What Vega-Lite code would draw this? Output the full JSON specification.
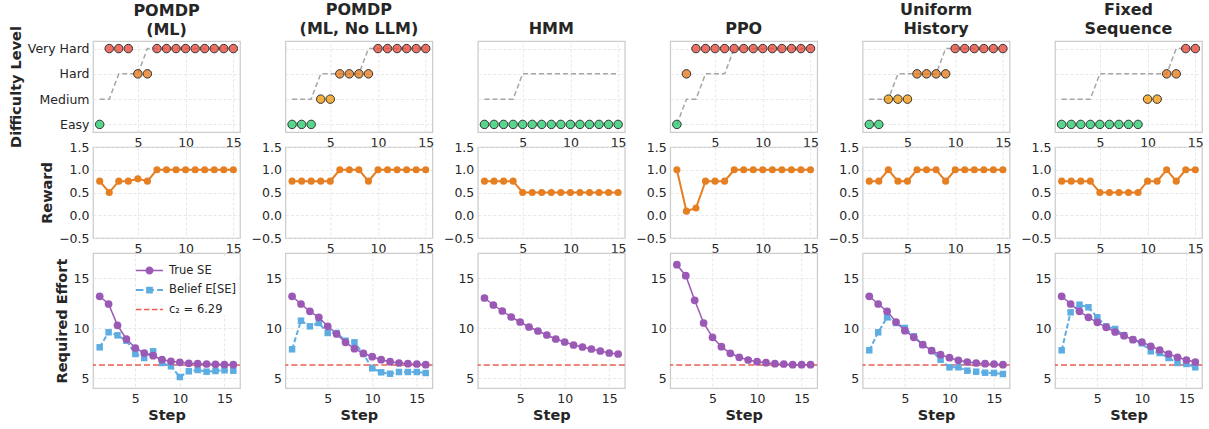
{
  "$schema": "https://vega.github.io/schema/vega-lite/v6.json",
  "padding": {"left": 7, "top": 1, "right": 2, "bottom": 2},
  "background": "white",
  "datasets": {
    "steps": [
      {"method":"ml","step":1,"level":"Easy","target":"Medium","reward":0.75},
      {"method":"ml","step":2,"level":"Very Hard","target":"Medium","reward":0.5},
      {"method":"ml","step":3,"level":"Very Hard","target":"Hard","reward":0.75},
      {"method":"ml","step":4,"level":"Very Hard","target":"Hard","reward":0.75},
      {"method":"ml","step":5,"level":"Hard","target":"Hard","reward":0.8},
      {"method":"ml","step":6,"level":"Hard","target":"Very Hard","reward":0.75},
      {"method":"ml","step":7,"level":"Very Hard","target":"Very Hard","reward":1.0},
      {"method":"ml","step":8,"level":"Very Hard","target":"Very Hard","reward":1.0},
      {"method":"ml","step":9,"level":"Very Hard","target":"Very Hard","reward":1.0},
      {"method":"ml","step":10,"level":"Very Hard","target":"Very Hard","reward":1.0},
      {"method":"ml","step":11,"level":"Very Hard","target":"Very Hard","reward":1.0},
      {"method":"ml","step":12,"level":"Very Hard","target":"Very Hard","reward":1.0},
      {"method":"ml","step":13,"level":"Very Hard","target":"Very Hard","reward":1.0},
      {"method":"ml","step":14,"level":"Very Hard","target":"Very Hard","reward":1.0},
      {"method":"ml","step":15,"level":"Very Hard","target":"Very Hard","reward":1.0},
      {"method":"nollm","step":1,"level":"Easy","target":"Medium","reward":0.75},
      {"method":"nollm","step":2,"level":"Easy","target":"Medium","reward":0.75},
      {"method":"nollm","step":3,"level":"Easy","target":"Medium","reward":0.75},
      {"method":"nollm","step":4,"level":"Medium","target":"Hard","reward":0.75},
      {"method":"nollm","step":5,"level":"Medium","target":"Hard","reward":0.75},
      {"method":"nollm","step":6,"level":"Hard","target":"Hard","reward":1.0},
      {"method":"nollm","step":7,"level":"Hard","target":"Hard","reward":1.0},
      {"method":"nollm","step":8,"level":"Hard","target":"Hard","reward":1.0},
      {"method":"nollm","step":9,"level":"Hard","target":"Very Hard","reward":0.75},
      {"method":"nollm","step":10,"level":"Very Hard","target":"Very Hard","reward":1.0},
      {"method":"nollm","step":11,"level":"Very Hard","target":"Very Hard","reward":1.0},
      {"method":"nollm","step":12,"level":"Very Hard","target":"Very Hard","reward":1.0},
      {"method":"nollm","step":13,"level":"Very Hard","target":"Very Hard","reward":1.0},
      {"method":"nollm","step":14,"level":"Very Hard","target":"Very Hard","reward":1.0},
      {"method":"nollm","step":15,"level":"Very Hard","target":"Very Hard","reward":1.0},
      {"method":"hmm","step":1,"level":"Easy","target":"Medium","reward":0.75},
      {"method":"hmm","step":2,"level":"Easy","target":"Medium","reward":0.75},
      {"method":"hmm","step":3,"level":"Easy","target":"Medium","reward":0.75},
      {"method":"hmm","step":4,"level":"Easy","target":"Medium","reward":0.75},
      {"method":"hmm","step":5,"level":"Easy","target":"Hard","reward":0.5},
      {"method":"hmm","step":6,"level":"Easy","target":"Hard","reward":0.5},
      {"method":"hmm","step":7,"level":"Easy","target":"Hard","reward":0.5},
      {"method":"hmm","step":8,"level":"Easy","target":"Hard","reward":0.5},
      {"method":"hmm","step":9,"level":"Easy","target":"Hard","reward":0.5},
      {"method":"hmm","step":10,"level":"Easy","target":"Hard","reward":0.5},
      {"method":"hmm","step":11,"level":"Easy","target":"Hard","reward":0.5},
      {"method":"hmm","step":12,"level":"Easy","target":"Hard","reward":0.5},
      {"method":"hmm","step":13,"level":"Easy","target":"Hard","reward":0.5},
      {"method":"hmm","step":14,"level":"Easy","target":"Hard","reward":0.5},
      {"method":"hmm","step":15,"level":"Easy","target":"Hard","reward":0.5},
      {"method":"ppo","step":1,"level":"Easy","target":"Easy","reward":1.0},
      {"method":"ppo","step":2,"level":"Hard","target":"Medium","reward":0.09},
      {"method":"ppo","step":3,"level":"Very Hard","target":"Medium","reward":0.16},
      {"method":"ppo","step":4,"level":"Very Hard","target":"Hard","reward":0.75},
      {"method":"ppo","step":5,"level":"Very Hard","target":"Hard","reward":0.75},
      {"method":"ppo","step":6,"level":"Very Hard","target":"Hard","reward":0.75},
      {"method":"ppo","step":7,"level":"Very Hard","target":"Very Hard","reward":1.0},
      {"method":"ppo","step":8,"level":"Very Hard","target":"Very Hard","reward":1.0},
      {"method":"ppo","step":9,"level":"Very Hard","target":"Very Hard","reward":1.0},
      {"method":"ppo","step":10,"level":"Very Hard","target":"Very Hard","reward":1.0},
      {"method":"ppo","step":11,"level":"Very Hard","target":"Very Hard","reward":1.0},
      {"method":"ppo","step":12,"level":"Very Hard","target":"Very Hard","reward":1.0},
      {"method":"ppo","step":13,"level":"Very Hard","target":"Very Hard","reward":1.0},
      {"method":"ppo","step":14,"level":"Very Hard","target":"Very Hard","reward":1.0},
      {"method":"ppo","step":15,"level":"Very Hard","target":"Very Hard","reward":1.0},
      {"method":"uniform","step":1,"level":"Easy","target":"Medium","reward":0.75},
      {"method":"uniform","step":2,"level":"Easy","target":"Medium","reward":0.75},
      {"method":"uniform","step":3,"level":"Medium","target":"Medium","reward":1.0},
      {"method":"uniform","step":4,"level":"Medium","target":"Hard","reward":0.75},
      {"method":"uniform","step":5,"level":"Medium","target":"Hard","reward":0.75},
      {"method":"uniform","step":6,"level":"Hard","target":"Hard","reward":1.0},
      {"method":"uniform","step":7,"level":"Hard","target":"Hard","reward":1.0},
      {"method":"uniform","step":8,"level":"Hard","target":"Hard","reward":1.0},
      {"method":"uniform","step":9,"level":"Hard","target":"Very Hard","reward":0.75},
      {"method":"uniform","step":10,"level":"Very Hard","target":"Very Hard","reward":1.0},
      {"method":"uniform","step":11,"level":"Very Hard","target":"Very Hard","reward":1.0},
      {"method":"uniform","step":12,"level":"Very Hard","target":"Very Hard","reward":1.0},
      {"method":"uniform","step":13,"level":"Very Hard","target":"Very Hard","reward":1.0},
      {"method":"uniform","step":14,"level":"Very Hard","target":"Very Hard","reward":1.0},
      {"method":"uniform","step":15,"level":"Very Hard","target":"Very Hard","reward":1.0},
      {"method":"fixed","step":1,"level":"Easy","target":"Medium","reward":0.75},
      {"method":"fixed","step":2,"level":"Easy","target":"Medium","reward":0.75},
      {"method":"fixed","step":3,"level":"Easy","target":"Medium","reward":0.75},
      {"method":"fixed","step":4,"level":"Easy","target":"Medium","reward":0.75},
      {"method":"fixed","step":5,"level":"Easy","target":"Hard","reward":0.5},
      {"method":"fixed","step":6,"level":"Easy","target":"Hard","reward":0.5},
      {"method":"fixed","step":7,"level":"Easy","target":"Hard","reward":0.5},
      {"method":"fixed","step":8,"level":"Easy","target":"Hard","reward":0.5},
      {"method":"fixed","step":9,"level":"Easy","target":"Hard","reward":0.5},
      {"method":"fixed","step":10,"level":"Medium","target":"Hard","reward":0.75},
      {"method":"fixed","step":11,"level":"Medium","target":"Hard","reward":0.75},
      {"method":"fixed","step":12,"level":"Hard","target":"Hard","reward":1.0},
      {"method":"fixed","step":13,"level":"Hard","target":"Very Hard","reward":0.75},
      {"method":"fixed","step":14,"level":"Very Hard","target":"Very Hard","reward":1.0},
      {"method":"fixed","step":15,"level":"Very Hard","target":"Very Hard","reward":1.0}
    ],
    "effort": [
      {"method":"ml","step":1,"trueSE":13.17,"belief":8.07},
      {"method":"ml","step":2,"trueSE":12.4,"belief":9.57},
      {"method":"ml","step":3,"trueSE":10.27,"belief":9.27},
      {"method":"ml","step":4,"trueSE":8.9,"belief":8.73},
      {"method":"ml","step":5,"trueSE":8.0,"belief":7.4},
      {"method":"ml","step":6,"trueSE":7.5,"belief":7.0},
      {"method":"ml","step":7,"trueSE":7.23,"belief":7.67},
      {"method":"ml","step":8,"trueSE":6.83,"belief":6.5},
      {"method":"ml","step":9,"trueSE":6.67,"belief":6.17},
      {"method":"ml","step":10,"trueSE":6.57,"belief":5.1},
      {"method":"ml","step":11,"trueSE":6.47,"belief":5.67},
      {"method":"ml","step":12,"trueSE":6.43,"belief":5.8},
      {"method":"ml","step":13,"trueSE":6.4,"belief":5.63},
      {"method":"ml","step":14,"trueSE":6.37,"belief":5.7},
      {"method":"ml","step":15,"trueSE":6.35,"belief":5.77},
      {"method":"ml","step":16,"trueSE":6.33,"belief":5.73},
      {"method":"nollm","step":1,"trueSE":13.17,"belief":7.87},
      {"method":"nollm","step":2,"trueSE":12.4,"belief":10.73},
      {"method":"nollm","step":3,"trueSE":11.67,"belief":10.17},
      {"method":"nollm","step":4,"trueSE":11.07,"belief":10.5},
      {"method":"nollm","step":5,"trueSE":10.17,"belief":9.5},
      {"method":"nollm","step":6,"trueSE":9.4,"belief":9.5},
      {"method":"nollm","step":7,"trueSE":8.57,"belief":8.73},
      {"method":"nollm","step":8,"trueSE":7.93,"belief":8.57},
      {"method":"nollm","step":9,"trueSE":7.47,"belief":7.4},
      {"method":"nollm","step":10,"trueSE":7.13,"belief":5.97},
      {"method":"nollm","step":11,"trueSE":6.83,"belief":5.57},
      {"method":"nollm","step":12,"trueSE":6.63,"belief":5.43},
      {"method":"nollm","step":13,"trueSE":6.5,"belief":5.6},
      {"method":"nollm","step":14,"trueSE":6.43,"belief":5.6},
      {"method":"nollm","step":15,"trueSE":6.4,"belief":5.6},
      {"method":"nollm","step":16,"trueSE":6.33,"belief":5.5},
      {"method":"hmm","step":1,"trueSE":13.0},
      {"method":"hmm","step":2,"trueSE":12.3},
      {"method":"hmm","step":3,"trueSE":11.7},
      {"method":"hmm","step":4,"trueSE":11.1},
      {"method":"hmm","step":5,"trueSE":10.6},
      {"method":"hmm","step":6,"trueSE":10.1},
      {"method":"hmm","step":7,"trueSE":9.7},
      {"method":"hmm","step":8,"trueSE":9.3},
      {"method":"hmm","step":9,"trueSE":8.9},
      {"method":"hmm","step":10,"trueSE":8.6},
      {"method":"hmm","step":11,"trueSE":8.3},
      {"method":"hmm","step":12,"trueSE":8.1},
      {"method":"hmm","step":13,"trueSE":7.9},
      {"method":"hmm","step":14,"trueSE":7.7},
      {"method":"hmm","step":15,"trueSE":7.5},
      {"method":"hmm","step":16,"trueSE":7.4},
      {"method":"ppo","step":1,"trueSE":16.33},
      {"method":"ppo","step":2,"trueSE":15.23},
      {"method":"ppo","step":3,"trueSE":12.77},
      {"method":"ppo","step":4,"trueSE":10.5},
      {"method":"ppo","step":5,"trueSE":9.07},
      {"method":"ppo","step":6,"trueSE":8.13},
      {"method":"ppo","step":7,"trueSE":7.47},
      {"method":"ppo","step":8,"trueSE":7.07},
      {"method":"ppo","step":9,"trueSE":6.8},
      {"method":"ppo","step":10,"trueSE":6.63},
      {"method":"ppo","step":11,"trueSE":6.53},
      {"method":"ppo","step":12,"trueSE":6.43},
      {"method":"ppo","step":13,"trueSE":6.4},
      {"method":"ppo","step":14,"trueSE":6.33},
      {"method":"ppo","step":15,"trueSE":6.33},
      {"method":"ppo","step":16,"trueSE":6.33},
      {"method":"uniform","step":1,"trueSE":13.17,"belief":7.77},
      {"method":"uniform","step":2,"trueSE":12.4,"belief":9.57},
      {"method":"uniform","step":3,"trueSE":11.67,"belief":11.07},
      {"method":"uniform","step":4,"trueSE":10.6,"belief":10.5},
      {"method":"uniform","step":5,"trueSE":9.73,"belief":10.0},
      {"method":"uniform","step":6,"trueSE":9.07,"belief":9.17},
      {"method":"uniform","step":7,"trueSE":8.33,"belief":8.33},
      {"method":"uniform","step":8,"trueSE":7.73,"belief":7.73},
      {"method":"uniform","step":9,"trueSE":7.33,"belief":6.83},
      {"method":"uniform","step":10,"trueSE":7.03,"belief":6.07},
      {"method":"uniform","step":11,"trueSE":6.77,"belief":6.07},
      {"method":"uniform","step":12,"trueSE":6.6,"belief":5.73},
      {"method":"uniform","step":13,"trueSE":6.5,"belief":5.63},
      {"method":"uniform","step":14,"trueSE":6.43,"belief":5.53},
      {"method":"uniform","step":15,"trueSE":6.4,"belief":5.5},
      {"method":"uniform","step":16,"trueSE":6.33,"belief":5.4},
      {"method":"fixed","step":1,"trueSE":13.17,"belief":7.77},
      {"method":"fixed","step":2,"trueSE":12.4,"belief":11.57},
      {"method":"fixed","step":3,"trueSE":11.67,"belief":12.33},
      {"method":"fixed","step":4,"trueSE":11.07,"belief":12.07},
      {"method":"fixed","step":5,"trueSE":10.57,"belief":11.07},
      {"method":"fixed","step":6,"trueSE":10.07,"belief":10.17},
      {"method":"fixed","step":7,"trueSE":9.6,"belief":9.9},
      {"method":"fixed","step":8,"trueSE":9.23,"belief":9.27},
      {"method":"fixed","step":9,"trueSE":8.83,"belief":8.83},
      {"method":"fixed","step":10,"trueSE":8.6,"belief":8.47},
      {"method":"fixed","step":11,"trueSE":8.17,"belief":7.67},
      {"method":"fixed","step":12,"trueSE":7.8,"belief":7.5},
      {"method":"fixed","step":13,"trueSE":7.4,"belief":7.0},
      {"method":"fixed","step":14,"trueSE":7.07,"belief":6.5},
      {"method":"fixed","step":15,"trueSE":6.8,"belief":6.4},
      {"method":"fixed","step":16,"trueSE":6.6,"belief":6.07}
    ],
    "threshold": [{"c2": 6.29}]
  },
  "columns": 6,
  "spacing": {"row": 15, "column": 45.4},
  "bounds": "flush",
  "resolve": {
    "scale": {"color": "independent", "shape": "independent"},
    "legend": {"color": "independent", "shape": "independent"}
  },
  "concat": [
    {"width":147,"height":91,"title":{"text":"POMDP","subtitle":"(ML)","dy":16},"data":{"name":"steps"},"transform":[{"filter":"datum.method === 'ml'"}],
     "encoding":{"x":{"field":"step","type":"quantitative","scale":{"domain":[0.3,15.7],"nice":false,"zero":false},"axis":{"values":[5,10,15],"title":null}}},
     "layer":[
      {"mark":{"type":"line","color":"#a6a6a6","strokeWidth":1.5,"strokeDash":[5,3]},"encoding":{"order":{"field":"step","type":"quantitative"},"y":{"field":"target","type":"ordinal","scale":{"domain":["Very Hard","Hard","Medium","Easy"],"padding":0.3},"axis":{"title":"Difficulty Level","grid":true}}}},
      {"mark":{"type":"point","filled":true,"size":72,"opacity":1,"fillOpacity":0.8,"stroke":"#333333","strokeWidth":1},"encoding":{"y":{"field":"level","type":"ordinal","scale":{"domain":["Very Hard","Hard","Medium","Easy"],"padding":0.3},"axis":{"title":"Difficulty Level","grid":true}},"color":{"field":"level","type":"nominal","scale":{"domain":["Easy","Medium","Hard","Very Hard"],"range":["#2ecc71","#f39c12","#e67e22","#e74c3c"]},"legend":null}}}
     ]},
    {"width":147,"height":91,"title":{"text":"POMDP","subtitle":"(ML, No LLM)"},"data":{"name":"steps"},"transform":[{"filter":"datum.method === 'nollm'"}],
     "encoding":{"x":{"field":"step","type":"quantitative","scale":{"domain":[0.3,15.7],"nice":false,"zero":false},"axis":{"values":[5,10,15],"title":null}}},
     "layer":[
      {"mark":{"type":"line","color":"#a6a6a6","strokeWidth":1.5,"strokeDash":[5,3]},"encoding":{"order":{"field":"step","type":"quantitative"},"y":{"field":"target","type":"ordinal","scale":{"domain":["Very Hard","Hard","Medium","Easy"],"padding":0.3},"axis":{"title":null,"labels":false,"grid":true}}}},
      {"mark":{"type":"point","filled":true,"size":72,"opacity":1,"fillOpacity":0.8,"stroke":"#333333","strokeWidth":1},"encoding":{"y":{"field":"level","type":"ordinal","scale":{"domain":["Very Hard","Hard","Medium","Easy"],"padding":0.3},"axis":{"title":null,"labels":false,"grid":true}},"color":{"field":"level","type":"nominal","scale":{"domain":["Easy","Medium","Hard","Very Hard"],"range":["#2ecc71","#f39c12","#e67e22","#e74c3c"]},"legend":null}}}
     ]},
    {"width":147,"height":91,"title":{"text":"HMM"},"data":{"name":"steps"},"transform":[{"filter":"datum.method === 'hmm'"}],
     "encoding":{"x":{"field":"step","type":"quantitative","scale":{"domain":[0.3,15.7],"nice":false,"zero":false},"axis":{"values":[5,10,15],"title":null}}},
     "layer":[
      {"mark":{"type":"line","color":"#a6a6a6","strokeWidth":1.5,"strokeDash":[5,3]},"encoding":{"order":{"field":"step","type":"quantitative"},"y":{"field":"target","type":"ordinal","scale":{"domain":["Very Hard","Hard","Medium","Easy"],"padding":0.3},"axis":{"title":null,"labels":false,"grid":true}}}},
      {"mark":{"type":"point","filled":true,"size":72,"opacity":1,"fillOpacity":0.8,"stroke":"#333333","strokeWidth":1},"encoding":{"y":{"field":"level","type":"ordinal","scale":{"domain":["Very Hard","Hard","Medium","Easy"],"padding":0.3},"axis":{"title":null,"labels":false,"grid":true}},"color":{"field":"level","type":"nominal","scale":{"domain":["Easy","Medium","Hard","Very Hard"],"range":["#2ecc71","#f39c12","#e67e22","#e74c3c"]},"legend":null}}}
     ]},
    {"width":147,"height":91,"title":{"text":"PPO"},"data":{"name":"steps"},"transform":[{"filter":"datum.method === 'ppo'"}],
     "encoding":{"x":{"field":"step","type":"quantitative","scale":{"domain":[0.3,15.7],"nice":false,"zero":false},"axis":{"values":[5,10,15],"title":null}}},
     "layer":[
      {"mark":{"type":"line","color":"#a6a6a6","strokeWidth":1.5,"strokeDash":[5,3]},"encoding":{"order":{"field":"step","type":"quantitative"},"y":{"field":"target","type":"ordinal","scale":{"domain":["Very Hard","Hard","Medium","Easy"],"padding":0.3},"axis":{"title":null,"labels":false,"grid":true}}}},
      {"mark":{"type":"point","filled":true,"size":72,"opacity":1,"fillOpacity":0.8,"stroke":"#333333","strokeWidth":1},"encoding":{"y":{"field":"level","type":"ordinal","scale":{"domain":["Very Hard","Hard","Medium","Easy"],"padding":0.3},"axis":{"title":null,"labels":false,"grid":true}},"color":{"field":"level","type":"nominal","scale":{"domain":["Easy","Medium","Hard","Very Hard"],"range":["#2ecc71","#f39c12","#e67e22","#e74c3c"]},"legend":null}}}
     ]},
    {"width":147,"height":91,"title":{"text":"Uniform","subtitle":"History"},"data":{"name":"steps"},"transform":[{"filter":"datum.method === 'uniform'"}],
     "encoding":{"x":{"field":"step","type":"quantitative","scale":{"domain":[0.3,15.7],"nice":false,"zero":false},"axis":{"values":[5,10,15],"title":null}}},
     "layer":[
      {"mark":{"type":"line","color":"#a6a6a6","strokeWidth":1.5,"strokeDash":[5,3]},"encoding":{"order":{"field":"step","type":"quantitative"},"y":{"field":"target","type":"ordinal","scale":{"domain":["Very Hard","Hard","Medium","Easy"],"padding":0.3},"axis":{"title":null,"labels":false,"grid":true}}}},
      {"mark":{"type":"point","filled":true,"size":72,"opacity":1,"fillOpacity":0.8,"stroke":"#333333","strokeWidth":1},"encoding":{"y":{"field":"level","type":"ordinal","scale":{"domain":["Very Hard","Hard","Medium","Easy"],"padding":0.3},"axis":{"title":null,"labels":false,"grid":true}},"color":{"field":"level","type":"nominal","scale":{"domain":["Easy","Medium","Hard","Very Hard"],"range":["#2ecc71","#f39c12","#e67e22","#e74c3c"]},"legend":null}}}
     ]},
    {"width":147,"height":91,"title":{"text":"Fixed","subtitle":"Sequence"},"data":{"name":"steps"},"transform":[{"filter":"datum.method === 'fixed'"}],
     "encoding":{"x":{"field":"step","type":"quantitative","scale":{"domain":[0.3,15.7],"nice":false,"zero":false},"axis":{"values":[5,10,15],"title":null}}},
     "layer":[
      {"mark":{"type":"line","color":"#a6a6a6","strokeWidth":1.5,"strokeDash":[5,3]},"encoding":{"order":{"field":"step","type":"quantitative"},"y":{"field":"target","type":"ordinal","scale":{"domain":["Very Hard","Hard","Medium","Easy"],"padding":0.3},"axis":{"title":null,"labels":false,"grid":true}}}},
      {"mark":{"type":"point","filled":true,"size":72,"opacity":1,"fillOpacity":0.8,"stroke":"#333333","strokeWidth":1},"encoding":{"y":{"field":"level","type":"ordinal","scale":{"domain":["Very Hard","Hard","Medium","Easy"],"padding":0.3},"axis":{"title":null,"labels":false,"grid":true}},"color":{"field":"level","type":"nominal","scale":{"domain":["Easy","Medium","Hard","Very Hard"],"range":["#2ecc71","#f39c12","#e67e22","#e74c3c"]},"legend":null}}}
     ]},

    {"width":147,"height":91,"data":{"name":"steps"},"transform":[{"filter":"datum.method === 'ml'"}],
     "mark":{"type":"line","color":"#e67e22","strokeWidth":2,"point":{"filled":true,"size":50,"color":"#e67e22","opacity":1}},
     "encoding":{"x":{"field":"step","type":"quantitative","scale":{"domain":[0.3,15.7],"nice":false,"zero":false},"axis":{"values":[5,10,15],"title":null}},
       "y":{"field":"reward","type":"quantitative","scale":{"domain":[-0.5,1.5],"nice":false},"axis":{"values":[-0.5,0,0.5,1,1.5],"format":".1f","title":"Reward"}}}},
    {"width":147,"height":91,"data":{"name":"steps"},"transform":[{"filter":"datum.method === 'nollm'"}],
     "mark":{"type":"line","color":"#e67e22","strokeWidth":2,"point":{"filled":true,"size":50,"color":"#e67e22","opacity":1}},
     "encoding":{"x":{"field":"step","type":"quantitative","scale":{"domain":[0.3,15.7],"nice":false,"zero":false},"axis":{"values":[5,10,15],"title":null}},
       "y":{"field":"reward","type":"quantitative","scale":{"domain":[-0.5,1.5],"nice":false},"axis":{"values":[-0.5,0,0.5,1,1.5],"format":".1f","title":null}}}},
    {"width":147,"height":91,"data":{"name":"steps"},"transform":[{"filter":"datum.method === 'hmm'"}],
     "mark":{"type":"line","color":"#e67e22","strokeWidth":2,"point":{"filled":true,"size":50,"color":"#e67e22","opacity":1}},
     "encoding":{"x":{"field":"step","type":"quantitative","scale":{"domain":[0.3,15.7],"nice":false,"zero":false},"axis":{"values":[5,10,15],"title":null}},
       "y":{"field":"reward","type":"quantitative","scale":{"domain":[-0.5,1.5],"nice":false},"axis":{"values":[-0.5,0,0.5,1,1.5],"format":".1f","title":null}}}},
    {"width":147,"height":91,"data":{"name":"steps"},"transform":[{"filter":"datum.method === 'ppo'"}],
     "mark":{"type":"line","color":"#e67e22","strokeWidth":2,"point":{"filled":true,"size":50,"color":"#e67e22","opacity":1}},
     "encoding":{"x":{"field":"step","type":"quantitative","scale":{"domain":[0.3,15.7],"nice":false,"zero":false},"axis":{"values":[5,10,15],"title":null}},
       "y":{"field":"reward","type":"quantitative","scale":{"domain":[-0.5,1.5],"nice":false},"axis":{"values":[-0.5,0,0.5,1,1.5],"format":".1f","title":null}}}},
    {"width":147,"height":91,"data":{"name":"steps"},"transform":[{"filter":"datum.method === 'uniform'"}],
     "mark":{"type":"line","color":"#e67e22","strokeWidth":2,"point":{"filled":true,"size":50,"color":"#e67e22","opacity":1}},
     "encoding":{"x":{"field":"step","type":"quantitative","scale":{"domain":[0.3,15.7],"nice":false,"zero":false},"axis":{"values":[5,10,15],"title":null}},
       "y":{"field":"reward","type":"quantitative","scale":{"domain":[-0.5,1.5],"nice":false},"axis":{"values":[-0.5,0,0.5,1,1.5],"format":".1f","title":null}}}},
    {"width":147,"height":91,"data":{"name":"steps"},"transform":[{"filter":"datum.method === 'fixed'"}],
     "mark":{"type":"line","color":"#e67e22","strokeWidth":2,"point":{"filled":true,"size":50,"color":"#e67e22","opacity":1}},
     "encoding":{"x":{"field":"step","type":"quantitative","scale":{"domain":[0.3,15.7],"nice":false,"zero":false},"axis":{"values":[5,10,15],"title":null}},
       "y":{"field":"reward","type":"quantitative","scale":{"domain":[-0.5,1.5],"nice":false},"axis":{"values":[-0.5,0,0.5,1,1.5],"format":".1f","title":null}}}},

    {"width":147,"height":135,
     "layer":[
      {"data":{"name":"threshold"},"mark":{"type":"rule","color":"#e74c3c","strokeWidth":1.5,"strokeDash":[6,3],"opacity":0.9},
       "encoding":{"y":{"field":"c2","type":"quantitative","scale":{"domain":[4,17.5],"nice":false,"zero":false},"axis":{"values":[5,10,15],"title":"Required Effort"}}}},
      {"data":{"name":"effort"},"transform":[{"filter":"datum.method === 'ml'"}],
       "mark":{"type":"line","color":"#5dade2","strokeWidth":2,"strokeDash":[5,2.5],"point":{"filled":true,"shape":"square","size":42,"color":"#5dade2","opacity":1}},
       "encoding":{"x":{"field":"step","type":"quantitative","scale":{"domain":[0.25,16.75],"nice":false,"zero":false},"axis":{"values":[5,10,15],"title":"Step"}},
         "y":{"field":"belief","type":"quantitative","scale":{"domain":[4,17.5],"nice":false,"zero":false},"axis":{"values":[5,10,15],"title":"Required Effort"}}}},
      {"data":{"name":"effort"},"transform":[{"filter":"datum.method === 'ml'"}],
       "mark":{"type":"line","color":"#9b59b6","strokeWidth":1.5,"point":{"filled":true,"size":60,"color":"#9b59b6","opacity":1}},
       "encoding":{"x":{"field":"step","type":"quantitative","scale":{"domain":[0.25,16.75],"nice":false,"zero":false},"axis":{"values":[5,10,15],"title":"Step"}},
         "y":{"field":"trueSE","type":"quantitative","scale":{"domain":[4,17.5],"nice":false,"zero":false},"axis":{"values":[5,10,15],"title":"Required Effort"}}}},
      {"data":{"values":[{"series":"True SE"},{"series":"Belief E[SE]"},{"series":"c₂ = 6.29"}]},
       "mark":{"type":"point","filled":true,"opacity":0,"size":729},
       "encoding":{
         "color":{"field":"series","type":"nominal","scale":{"domain":["True SE","Belief E[SE]","c₂ = 6.29"],"range":["#9b59b6","#5dade2","#ec5f50"]},
           "legend":{"title":null,"orient":"top-right","offset":4,"symbolSize":729,"labelFont":"DejaVu Sans","labelFontSize":11.5,"labelColor":"#262626","labelOffset":6,"rowPadding":0.5,"padding":0,"fillColor":"#ffffff","symbolOpacity":1,"symbolStrokeWidth":0}},
         "shape":{"field":"series","type":"nominal","scale":{"domain":["True SE","Belief E[SE]","c₂ = 6.29"],"range":[
           "M-1,-0.06H1V0.06H-1Z M-0.3,0A0.3,0.3 0 1,1 0.3,0A0.3,0.3 0 1,1 -0.3,0Z",
           "M-1,-0.07H-0.45V0.07H-1Z M-0.21,-0.07H0.33V0.07H-0.21Z M0.57,-0.07H1V0.07H0.57Z M-0.25,-0.25H0.25V0.25H-0.25Z",
           "M-1,-0.055H-0.59V0.055H-1Z M-0.41,-0.055H0V0.055H-0.41Z M0.18,-0.055H0.59V0.055H0.18Z M0.77,-0.055H1V0.055H0.77Z"]},
           "legend":{"title":null,"orient":"top-right","offset":4,"symbolSize":729,"labelFont":"DejaVu Sans","labelFontSize":11.5,"labelColor":"#262626","labelOffset":6,"rowPadding":0.5,"padding":0,"fillColor":"#ffffff","symbolOpacity":1,"symbolStrokeWidth":0}}}}
     ]},
    {"width":147,"height":135,
     "layer":[
      {"data":{"name":"threshold"},"mark":{"type":"rule","color":"#e74c3c","strokeWidth":1.5,"strokeDash":[6,3],"opacity":0.9},
       "encoding":{"y":{"field":"c2","type":"quantitative","scale":{"domain":[4,17.5],"nice":false,"zero":false},"axis":{"values":[5,10,15],"title":null}}}},
      {"data":{"name":"effort"},"transform":[{"filter":"datum.method === 'nollm'"}],
       "mark":{"type":"line","color":"#5dade2","strokeWidth":2,"strokeDash":[5,2.5],"point":{"filled":true,"shape":"square","size":42,"color":"#5dade2","opacity":1}},
       "encoding":{"x":{"field":"step","type":"quantitative","scale":{"domain":[0.25,16.75],"nice":false,"zero":false},"axis":{"values":[5,10,15],"title":"Step"}},
         "y":{"field":"belief","type":"quantitative","scale":{"domain":[4,17.5],"nice":false,"zero":false},"axis":{"values":[5,10,15],"title":null}}}},
      {"data":{"name":"effort"},"transform":[{"filter":"datum.method === 'nollm'"}],
       "mark":{"type":"line","color":"#9b59b6","strokeWidth":1.5,"point":{"filled":true,"size":60,"color":"#9b59b6","opacity":1}},
       "encoding":{"x":{"field":"step","type":"quantitative","scale":{"domain":[0.25,16.75],"nice":false,"zero":false},"axis":{"values":[5,10,15],"title":"Step"}},
         "y":{"field":"trueSE","type":"quantitative","scale":{"domain":[4,17.5],"nice":false,"zero":false},"axis":{"values":[5,10,15],"title":null}}}}
     ]},
    {"width":147,"height":135,
     "layer":[
      {"data":{"name":"threshold"},"mark":{"type":"rule","color":"#e74c3c","strokeWidth":1.5,"strokeDash":[6,3],"opacity":0.9},
       "encoding":{"y":{"field":"c2","type":"quantitative","scale":{"domain":[4,17.5],"nice":false,"zero":false},"axis":{"values":[5,10,15],"title":null}}}},
      {"data":{"name":"effort"},"transform":[{"filter":"datum.method === 'hmm'"}],
       "mark":{"type":"line","color":"#9b59b6","strokeWidth":1.5,"point":{"filled":true,"size":60,"color":"#9b59b6","opacity":1}},
       "encoding":{"x":{"field":"step","type":"quantitative","scale":{"domain":[0.25,16.75],"nice":false,"zero":false},"axis":{"values":[5,10,15],"title":"Step"}},
         "y":{"field":"trueSE","type":"quantitative","scale":{"domain":[4,17.5],"nice":false,"zero":false},"axis":{"values":[5,10,15],"title":null}}}}
     ]},
    {"width":147,"height":135,
     "layer":[
      {"data":{"name":"threshold"},"mark":{"type":"rule","color":"#e74c3c","strokeWidth":1.5,"strokeDash":[6,3],"opacity":0.9},
       "encoding":{"y":{"field":"c2","type":"quantitative","scale":{"domain":[4,17.5],"nice":false,"zero":false},"axis":{"values":[5,10,15],"title":null}}}},
      {"data":{"name":"effort"},"transform":[{"filter":"datum.method === 'ppo'"}],
       "mark":{"type":"line","color":"#9b59b6","strokeWidth":1.5,"point":{"filled":true,"size":60,"color":"#9b59b6","opacity":1}},
       "encoding":{"x":{"field":"step","type":"quantitative","scale":{"domain":[0.25,16.75],"nice":false,"zero":false},"axis":{"values":[5,10,15],"title":"Step"}},
         "y":{"field":"trueSE","type":"quantitative","scale":{"domain":[4,17.5],"nice":false,"zero":false},"axis":{"values":[5,10,15],"title":null}}}}
     ]},
    {"width":147,"height":135,
     "layer":[
      {"data":{"name":"threshold"},"mark":{"type":"rule","color":"#e74c3c","strokeWidth":1.5,"strokeDash":[6,3],"opacity":0.9},
       "encoding":{"y":{"field":"c2","type":"quantitative","scale":{"domain":[4,17.5],"nice":false,"zero":false},"axis":{"values":[5,10,15],"title":null}}}},
      {"data":{"name":"effort"},"transform":[{"filter":"datum.method === 'uniform'"}],
       "mark":{"type":"line","color":"#5dade2","strokeWidth":2,"strokeDash":[5,2.5],"point":{"filled":true,"shape":"square","size":42,"color":"#5dade2","opacity":1}},
       "encoding":{"x":{"field":"step","type":"quantitative","scale":{"domain":[0.25,16.75],"nice":false,"zero":false},"axis":{"values":[5,10,15],"title":"Step"}},
         "y":{"field":"belief","type":"quantitative","scale":{"domain":[4,17.5],"nice":false,"zero":false},"axis":{"values":[5,10,15],"title":null}}}},
      {"data":{"name":"effort"},"transform":[{"filter":"datum.method === 'uniform'"}],
       "mark":{"type":"line","color":"#9b59b6","strokeWidth":1.5,"point":{"filled":true,"size":60,"color":"#9b59b6","opacity":1}},
       "encoding":{"x":{"field":"step","type":"quantitative","scale":{"domain":[0.25,16.75],"nice":false,"zero":false},"axis":{"values":[5,10,15],"title":"Step"}},
         "y":{"field":"trueSE","type":"quantitative","scale":{"domain":[4,17.5],"nice":false,"zero":false},"axis":{"values":[5,10,15],"title":null}}}}
     ]},
    {"width":147,"height":135,
     "layer":[
      {"data":{"name":"threshold"},"mark":{"type":"rule","color":"#e74c3c","strokeWidth":1.5,"strokeDash":[6,3],"opacity":0.9},
       "encoding":{"y":{"field":"c2","type":"quantitative","scale":{"domain":[4,17.5],"nice":false,"zero":false},"axis":{"values":[5,10,15],"title":null}}}},
      {"data":{"name":"effort"},"transform":[{"filter":"datum.method === 'fixed'"}],
       "mark":{"type":"line","color":"#5dade2","strokeWidth":2,"strokeDash":[5,2.5],"point":{"filled":true,"shape":"square","size":42,"color":"#5dade2","opacity":1}},
       "encoding":{"x":{"field":"step","type":"quantitative","scale":{"domain":[0.25,16.75],"nice":false,"zero":false},"axis":{"values":[5,10,15],"title":"Step"}},
         "y":{"field":"belief","type":"quantitative","scale":{"domain":[4,17.5],"nice":false,"zero":false},"axis":{"values":[5,10,15],"title":null}}}},
      {"data":{"name":"effort"},"transform":[{"filter":"datum.method === 'fixed'"}],
       "mark":{"type":"line","color":"#9b59b6","strokeWidth":1.5,"point":{"filled":true,"size":60,"color":"#9b59b6","opacity":1}},
       "encoding":{"x":{"field":"step","type":"quantitative","scale":{"domain":[0.25,16.75],"nice":false,"zero":false},"axis":{"values":[5,10,15],"title":"Step"}},
         "y":{"field":"trueSE","type":"quantitative","scale":{"domain":[4,17.5],"nice":false,"zero":false},"axis":{"values":[5,10,15],"title":null}}}}
     ]}
  ],
  "config": {
    "font": "DejaVu Sans",
    "view": {"stroke": "#cccccc", "strokeWidth": 1.25},
    "axis": {"labelFont": "DejaVu Sans", "labelFontSize": 12.5, "labelColor": "#262626", "titleFont": "DejaVu Sans", "titleFontSize": 14.5, "titleFontWeight": "bold", "titleColor": "#262626", "ticks": false, "domain": false, "grid": true, "gridColor": "#e2e2e2", "gridDash": [3, 2], "gridWidth": 0.8, "labelPadding": 4, "titlePadding": 4, "labelFlush": false},
    "title": {"font": "DejaVu Sans", "fontSize": 16, "fontWeight": "bold", "color": "#262626", "offset": 4, "anchor": "middle", "subtitleFont": "DejaVu Sans", "subtitleFontSize": 16, "subtitleFontWeight": "bold", "subtitleColor": "#262626", "subtitlePadding": 0}
  }
}
